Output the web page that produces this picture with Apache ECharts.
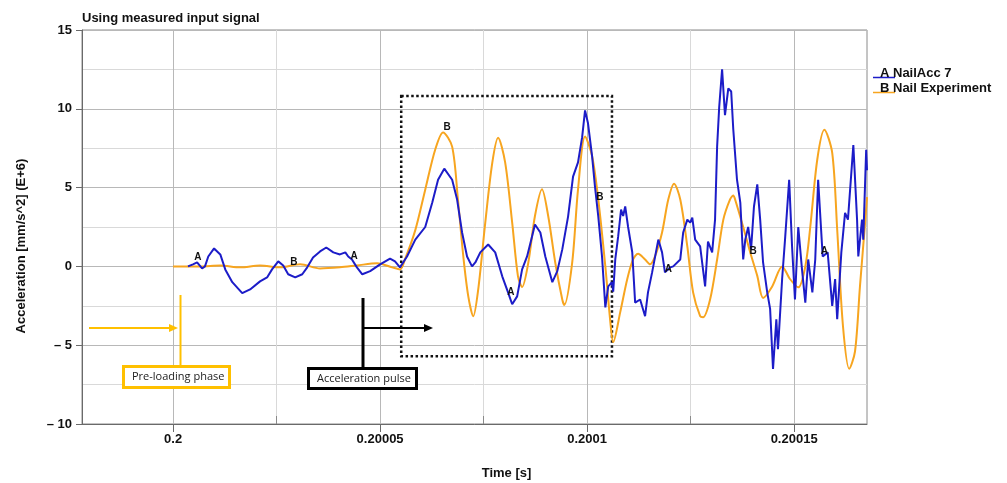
<!DOCTYPE html>
<html>
<head>
<meta charset="utf-8">
<script src="https://cdn.jsdelivr.net/npm/echarts@6/dist/echarts.min.js"></script>
<style>
  html, body { margin: 0; padding: 0; background: #fff; }
  #chart { width: 1007px; height: 483px; }
</style>
</head>
<body>
<div id="chart"></div>
<script>
// time in microseconds after 0.2 s, acceleration in mm/s^2 (E+6)
const timeBlue = [3.6, 4.8, 5.8, 7.0, 7.7, 8.5, 9.9, 11.4, 12.6, 14.3, 16.7, 18.6, 21.0, 22.7, 23.9, 25.4, 26.6, 27.8, 29.5, 31.2,
  32.4, 33.8, 35.5, 37.0, 38.7, 40.3, 41.6, 42.3, 43.2, 44.4, 45.7, 47.6, 50.0, 52.4, 53.6, 54.8, 56.5, 58.5, 60.9, 62.6,
  64.0, 65.5, 67.4, 68.6, 69.8, 71.0, 72.2, 73.0, 74.2, 76.1, 77.8, 79.5, 80.9, 81.9, 83.1, 84.3, 85.5, 86.7, 87.4, 88.7,
  89.9, 91.6, 92.8, 94.0, 95.4, 96.6, 97.8, 98.8, 99.5, 100.2, 101.2, 101.9, 102.7, 103.6, 104.4, 105.1, 106.0, 106.3, 106.8, 107.5,
  108.2, 108.7, 109.2, 109.9, 110.9, 111.6, 112.8, 114.0, 114.7, 115.7, 117.2, 118.1, 118.8, 120.1, 120.8, 122.5, 123.2, 124.2, 124.9, 125.4,
  126.1, 127.3, 128.5, 129.2, 130.2, 130.9, 131.4, 131.9, 132.6, 133.3, 134.1, 134.8, 135.3, 136.2, 137.0, 137.7, 138.2, 138.9, 139.6, 140.3,
  141.1, 141.8, 142.5, 143.5, 144.2, 144.9, 145.7, 146.1, 147.1, 147.8, 148.8, 149.5, 150.2, 151.0, 151.9, 152.7, 153.4, 154.4, 155.1, 155.8,
  156.9, 158.1, 159.2, 159.9, 160.4, 161.4, 162.3, 163.0, 164.3, 165.2, 165.5, 166.4, 166.7, 167.4, 167.6];
const accBlue = [0, 0.13, 0.25, -0.13, 0, 0.63, 1.14, 0.76, -0.19, -1.0, -1.7, -1.46, -0.95, -0.7, -0.19, 0.32, 0.06, -0.5, -0.7, -0.5,
  -0.06, 0.57, 0.95, 1.2, 0.89, 0.76, 0.89, 0.63, 0.44, -0.06, -0.5, -0.3, 0.13, 0.5, 0.32, -0.06, 0.63, 1.7, 2.5, 4.05,
  5.5, 6.2, 5.5, 4.24, 2.15, 0.63, 0, 0.25, 0.89, 1.39, 0.89, -0.63, -1.65, -2.4, -1.9, -0.19, 0.63, 1.9, 2.66, 2.15,
  0.63, -1.0, -0.3, 1.08, 3.16, 5.7, 6.6, 8.2, 9.9, 9.1, 7.0, 5.06, 3.16, 0.63, -2.6, -1.27, -1.0, -1.6, 0.44, 1.9,
  3.6, 3.2, 3.8, 2.5, 0.9, -2.3, -2.1, -3.16, -1.65, -0.38, 1.7, 0.89, -0.38, -0.06, 0, 0.44, 2.15, 2.97, 2.78, 3.1,
  1.7, 1.27, -1.27, 1.58, 0.89, 2.97, 7.6, 10.1, 12.5, 9.6, 11.3, 11.1, 8.7, 5.5, 4.05, 0.44, 1.7, 2.5, 1.08, 3.8,
  5.2, 2.97, 0.25, -1.65, -2.7, -6.5, -3.35, -5.25, -0.8, 1.7, 5.5, 1.27, -2.1, 2.5, -0.19, -2.3, 0.44, -1.65, 0.44, 5.5,
  0.63, 0.89, -2.5, -0.8, -3.35, 0.89, 3.4, 2.97, 7.7, 2.97, 0.63, 2.97, 1.7, 7.4, 6.1];

const timeOrange = [0, 6.5, 11.4, 16.2, 21.0, 25.9, 30.7, 35.5, 40.3, 44.4, 49.3, 52.9, 54.8, 56.0, 58.5, 60.9, 63.3, 65.2, 67.4, 68.8,
  70.1, 71.3, 72.5, 73.7, 75.4, 77.1, 78.5, 80.2, 81.9, 83.3, 84.3, 85.8, 87.4, 89.1, 90.6, 92.3, 94.0, 94.5, 96.4, 97.8,
  99.5, 101.2, 102.7, 104.4, 105.6, 106.3, 108.0, 109.7, 111.1, 112.3, 114.0, 115.2, 116.4, 118.1, 119.6, 121.0, 122.5, 124.2, 125.6, 127.3,
  128.0, 129.7, 131.4, 132.9, 134.5, 135.3, 135.8, 137.7, 139.4, 141.1, 142.5, 144.7, 147.1, 149.0, 151.0, 152.7, 153.9, 155.6, 157.3, 159.2,
  160.4, 161.8, 163.3, 164.7, 165.9, 167.2, 167.6];
const accOrange = [0, 0, 0.06, -0.06, 0.06, -0.06, 0.13, -0.13, -0.06, 0.06, 0.2, -0.06, -0.19, 0.44, 2.3, 4.87, 7.4, 8.5, 7.6, 4.24,
  0.63, -1.9, -3.16, -1.46, 2.78, 6.58, 8.16, 6.6, 2.78, -0.63, -1.3, 0.25, 3.2, 4.9, 3.2, 0.25, -2.1, -2.45, 0.25, 4.87,
  8.25, 7.0, 4.24, 0, -3.5, -4.8, -2.9, -0.8, 0.44, 0.8, 0.44, 0.13, 0.63, 2.15, 4.24, 5.25, 4.24, 1.27, -1.65, -3.16,
  -3.23, -2.1, 0.44, 2.97, 4.24, 4.5, 4.2, 2.5, 0.88, -0.6, -2.0, -1.27, 0, -0.8, -1.33, 0, 2.5, 6.8, 8.67, 7.2,
  2.34, -3.8, -6.5, -5.4, -1.27, 2.97, 4.4];

// letter markers on the curves
const markATime = [6.0, 43.7, 81.6, 119.6, 157.3];
const markAAcc = [0.57, 0.63, -1.65, -0.2, 0.95];
const markBTime = [29.2, 66.2, 103.1, 140.1];
const markBAcc = [0.25, 8.8, 4.37, 0.95];

// dotted "acceleration pulse" window
const pulseTime = [55.1, 106.0];
const pulseAcc = [10.82, -5.7];

const xTicks = [0, 50, 100, 150];
const xTickLabels = ['0.2', '0.20005', '0.2001', '0.20015'];
const xMinorTicks = [25, 75, 125];

const blueColor = '#1c1cc8';
const orangeColor = '#f7a51f';
const annoOrange = '#ffc000';
const font = 'Liberation Sans, Arial, sans-serif';

const chart = echarts.init(document.getElementById('chart'));

function letterMarks(ts, vs, letter) {
  return ts.map((t, i) => ({ coord: [t, vs[i]], value: letter }));
}

const markLabel = {
  show: true,
  position: 'inside',
  color: '#111',
  fontSize: 10,
  fontWeight: 'bold',
  fontFamily: font,
  formatter: (p) => p.value
};

const options = {
  animation: false,
  title: {
    text: 'Using measured input signal',
    left: 77,
    top: 7,
    textStyle: { fontFamily: font, fontSize: 13, fontWeight: 'bold', color: '#111' }
  },
  grid: {
    left: 82,
    right: 140,
    top: 30,
    bottom: 59,
    outerBoundsMode: 'none',
    show: true,
    borderColor: '#8a8a8a',
    borderWidth: 1
  },
  legend: {
    orient: 'vertical',
    left: 868,
    top: 62,
    itemWidth: 22,
    itemHeight: 11.5,
    itemGap: 2,
    icon: 'path://M0,0 L22,0 M0,8 L22,8 L22,9.5 L0,9.5 Z',
    itemStyle: { borderWidth: 0 },
    data: ['NailAcc 7', 'Nail Experiment'],
    formatter: (name) => (name === 'NailAcc 7' ? 'A ' : 'B ') + name,
    textStyle: {
      fontFamily: font,
      fontSize: 13,
      fontWeight: 'bold',
      color: '#111',
      padding: [0, 0, 0, -20]
    }
  },
  xAxis: [
    {
      type: 'value',
      min: -22,
      max: 167.6,
      name: 'Time [s]',
      nameLocation: 'middle',
      nameGap: 43,
      nameTextStyle: { fontFamily: font, fontSize: 13, fontWeight: 'bold', color: '#111', padding: [0, 0, 0, 64] },
      axisLine: { show: true, onZero: false, lineStyle: { color: '#6a6a6a' } },
      axisTick: { show: true, customValues: xTicks, length: 8, lineStyle: { color: '#6a6a6a' } },
      axisLabel: {
        customValues: xTicks,
        margin: 9,
        fontFamily: font,
        fontSize: 13,
        fontWeight: 'bold',
        color: '#111',
        formatter: (v) => xTickLabels[xTicks.indexOf(Math.round(v))] || ''
      },
      splitLine: { show: true, lineStyle: { color: '#b8b8b8', width: 1 } }
    },
    {
      type: 'value',
      min: -22,
      max: 167.6,
      position: 'bottom',
      axisLine: { show: false, onZero: false },
      axisTick: { show: true, inside: true, customValues: xMinorTicks, length: 8, lineStyle: { color: '#8a8a8a' } },
      axisLabel: { show: false, customValues: xMinorTicks },
      splitLine: { show: true, lineStyle: { color: '#d9d9d9', width: 1 } }
    }
  ],
  yAxis: {
    type: 'value',
    min: -10,
    max: 15,
    interval: 5,
    name: 'Acceleration [mm/s^2] (E+6)',
    nameLocation: 'middle',
    nameGap: 54,
    nameTextStyle: { fontFamily: font, fontSize: 13, fontWeight: 'bold', color: '#111', padding: [0, 38, 0, 0] },
    axisLine: { show: true, onZero: false, lineStyle: { color: '#6a6a6a' } },
    axisTick: { show: true, length: 6, lineStyle: { color: '#6a6a6a' } },
    axisLabel: {
      margin: 10,
      fontFamily: font,
      fontSize: 13,
      fontWeight: 'bold',
      color: '#111',
      formatter: (v) => (v < 0 ? '\u2013 ' + Math.abs(v) : String(v))
    },
    splitLine: { show: true, lineStyle: { color: '#b8b8b8', width: 1 } },
    minorTick: { show: false, splitNumber: 2 },
    minorSplitLine: { show: true, lineStyle: { color: '#d9d9d9', width: 1 } }
  },
  series: [
    {
      name: 'NailAcc 7',
      type: 'line',
      symbol: 'none',
      color: blueColor,
      lineStyle: { color: blueColor, width: 2 },
      data: timeBlue.map((t, i) => [t, accBlue[i]]),
      z: 3,
      markPoint: {
        symbol: 'rect',
        symbolSize: 1,
        itemStyle: { color: 'rgba(0,0,0,0)' },
        label: markLabel,
        data: letterMarks(markATime, markAAcc, 'A')
      },
      markArea: {
        silent: true,
        itemStyle: {
          color: 'rgba(0,0,0,0)',
          borderColor: '#111',
          borderWidth: 2.5,
          borderType: [2.5, 2.5]
        },
        data: [[{ coord: [pulseTime[0], pulseAcc[0]] }, { coord: [pulseTime[1], pulseAcc[1]] }]]
      }
    },
    {
      name: 'Nail Experiment',
      type: 'line',
      symbol: 'none',
      smooth: 0.3,
      color: orangeColor,
      lineStyle: { color: orangeColor, width: 2 },
      data: timeOrange.map((t, i) => [t, accOrange[i]]),
      z: 2,
      markPoint: {
        symbol: 'rect',
        symbolSize: 1,
        itemStyle: { color: 'rgba(0,0,0,0)' },
        label: markLabel,
        data: letterMarks(markBTime, markBAcc, 'B')
      }
    }
  ],
  graphic: [
    // pre-loading phase marker
    { type: 'line', shape: { x1: 180.5, y1: 295, x2: 180.5, y2: 367 }, style: { stroke: annoOrange, lineWidth: 2 }, z: 10 },
    { type: 'line', shape: { x1: 89, y1: 328, x2: 171, y2: 328 }, style: { stroke: annoOrange, lineWidth: 2 }, z: 10 },
    { type: 'polygon', shape: { points: [[178, 328], [169, 324], [169, 332]] }, style: { fill: annoOrange }, z: 10 },
    { type: 'rect', shape: { x: 123.5, y: 366.5, width: 106, height: 21 }, style: { fill: '#fff', stroke: annoOrange, lineWidth: 3 }, z: 10 },
    { type: 'text', x: 132, y: 377, style: { text: 'Pre-loading phase', fill: '#222', font: '11px "Open Sans", sans-serif', verticalAlign: 'middle' }, z: 11 },
    // acceleration pulse marker
    { type: 'line', shape: { x1: 363, y1: 298, x2: 363, y2: 368 }, style: { stroke: '#000', lineWidth: 3 }, z: 10 },
    { type: 'line', shape: { x1: 363, y1: 328, x2: 425, y2: 328 }, style: { stroke: '#000', lineWidth: 2 }, z: 10 },
    { type: 'polygon', shape: { points: [[433, 328], [424, 324], [424, 332]] }, style: { fill: '#000' }, z: 10 },
    { type: 'rect', shape: { x: 308.5, y: 368.5, width: 108, height: 20 }, style: { fill: '#fff', stroke: '#000', lineWidth: 3 }, z: 10 },
    { type: 'text', x: 317, y: 379, style: { text: 'Acceleration pulse', fill: '#222', font: '11px "Open Sans", sans-serif', verticalAlign: 'middle' }, z: 11 }
  ]
};

chart.setOption(options);
</script>
</body>
</html>
